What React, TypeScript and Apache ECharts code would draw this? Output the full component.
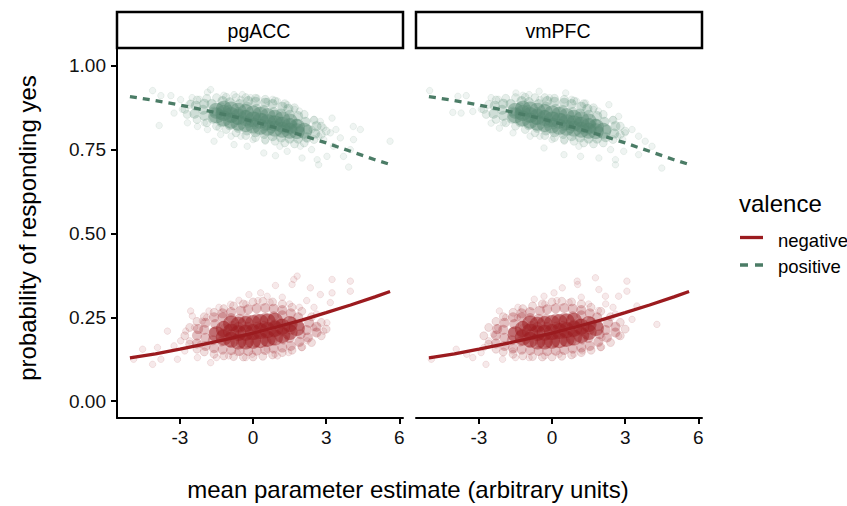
import React, { useEffect, useRef } from "react";
import * as echarts from "echarts";

const panels = ["pgACC", "vmPFC"];
const xTicks = [-3, 0, 3, 6];
const yTicks = [0, 0.25, 0.5, 0.75, 1];
const legendTitle = "valence";
const legendItems = ["negative", "positive"];
const xTitle = "mean parameter estimate (arbitrary units)";
const yTitle = "probability of responding yes";

// fitted curves
const lineX = [-5.05, -4, -3, -2, -1, 0, 1, 2, 3, 4, 5, 5.62];
const negativeFit = [0.129, 0.141, 0.155, 0.17, 0.186, 0.203, 0.222, 0.242, 0.264, 0.287, 0.311, 0.327];
const positiveFit = [0.908, 0.896, 0.883, 0.868, 0.852, 0.834, 0.814, 0.793, 0.77, 0.745, 0.72, 0.706];

// saturated core of the positive cloud
const greenCore = [
  [-1.5, 0.852], [-1.5, 0.866], [-1.2, 0.843], [-1.2, 0.859], [-1.2, 0.872], [-0.9, 0.836], [-0.9, 0.853], [-0.9, 0.87],
  [-0.6, 0.83], [-0.6, 0.848], [-0.6, 0.866], [-0.3, 0.826], [-0.3, 0.844], [-0.3, 0.862], [0, 0.822], [0, 0.84],
  [0, 0.858], [0.3, 0.818], [0.3, 0.836], [0.3, 0.854], [0.6, 0.815], [0.6, 0.832], [0.6, 0.85], [0.9, 0.812],
  [0.9, 0.828], [0.9, 0.845], [1.2, 0.809], [1.2, 0.824], [1.2, 0.84], [1.5, 0.806], [1.5, 0.82], [1.5, 0.834],
  [1.8, 0.805], [1.8, 0.818], [2.1, 0.806],
];
// semi-dense body of the positive cloud
const greenMid = [
  [-2.4, 0.857], [-2.35, 0.881], [-2.0, 0.851], [-2.05, 0.869], [-2.0, 0.887], [-1.65, 0.842], [-1.6, 0.864], [-1.7, 0.886],
  [-1.3, 0.832], [-1.35, 0.854], [-1.3, 0.876], [-1.25, 0.895], [-0.95, 0.823], [-0.9, 0.846], [-1.0, 0.869], [-0.95, 0.891],
  [-0.6, 0.815], [-0.65, 0.838], [-0.6, 0.862], [-0.55, 0.886], [-0.25, 0.807], [-0.2, 0.83], [-0.3, 0.854], [-0.25, 0.878],
  [-0.2, 0.895], [0.1, 0.802], [0.05, 0.825], [0.1, 0.849], [0.15, 0.872], [0.1, 0.893], [0.45, 0.797], [0.5, 0.82],
  [0.4, 0.844], [0.45, 0.868], [0.5, 0.89], [0.8, 0.79], [0.75, 0.814], [0.8, 0.838], [0.85, 0.862], [0.8, 0.886],
  [1.15, 0.786], [1.2, 0.81], [1.1, 0.834], [1.15, 0.858], [1.2, 0.878], [1.5, 0.783], [1.45, 0.806], [1.55, 0.83],
  [1.5, 0.854], [1.45, 0.872], [1.85, 0.783], [1.9, 0.805], [1.8, 0.827], [1.85, 0.85], [2.2, 0.787], [2.25, 0.81],
  [2.15, 0.833], [2.55, 0.798], [2.6, 0.82],
];
// thinning rim of the positive cloud
const greenRim = [
  [-2.6, 0.885], [-2.3, 0.898], [-1.9, 0.903], [-1.5, 0.905], [-1.1, 0.906], [-0.7, 0.905], [-0.3, 0.905], [0.1, 0.903],
  [0.5, 0.9], [0.9, 0.895], [1.3, 0.887], [1.7, 0.875], [2.1, 0.855], [2.5, 0.838], [2.8, 0.82], [-2.7, 0.855],
  [-2.3, 0.84], [-1.9, 0.83], [-1.5, 0.82], [-1.1, 0.81], [-0.7, 0.8], [-0.3, 0.792], [0.1, 0.786], [0.5, 0.78],
  [0.9, 0.775], [1.3, 0.77], [1.7, 0.767], [2.1, 0.77], [2.5, 0.78], [2.8, 0.795], [-2.8, 0.87], [3.0, 0.805],
];
const greenFringe1 = [
  [-4.12, 0.926], [-3.85, 0.822], [5.62, 0.775], [3.92, 0.698], [2.69, 0.705], [4.11, 0.819], [3.24, 0.844], [2.01, 0.725],
  [0.92, 0.732], [-1.6, 0.775], [-0.78, 0.765], [-1.87, 0.921], [-3.37, 0.911], [-3.78, 0.911], [-3.24, 0.859], [-2.97, 0.899],
  [-2.28, 0.819], [-0.78, 0.914], [-0.44, 0.914], [0.17, 0.904], [0.58, 0.894], [1.4, 0.884], [2.76, 0.834], [3.17, 0.8],
  [3.58, 0.785], [3.99, 0.75], [3.03, 0.73], [2.63, 0.72], [1.4, 0.745], [0.44, 0.74], [-0.24, 0.76], [-1.33, 0.795],
  [-1.87, 0.81], [-2.69, 0.83], [-2.56, 0.889], [-1.74, 0.929], [1.94, 0.76], [2.22, 0.78], [2.42, 0.81], [4.12, 0.78],
  [3.71, 0.73], [4.4, 0.81], [3.3, 0.76], [-2.9, 0.87], [-2.5, 0.905], [-1.2, 0.912], [-0.1, 0.905], [1.0, 0.895],
  [1.7, 0.87], [2.5, 0.84], [2.9, 0.78], [2.4, 0.75], [1.1, 0.76], [0.0, 0.78], [-0.9, 0.79], [-2.0, 0.83], [3.4, 0.81],
  [2.9, 0.815], [-2.2, 0.9], [-0.5, 0.9], [0.8, 0.9], [1.9, 0.865], [2.7, 0.79], [0.5, 0.775], [-0.5, 0.79], [-1.4, 0.815],
];
const greenFringe2 = [
  [-5.02, 0.926], [-4.07, 0.861], [-3.73, 0.859], [-3.86, 0.909], [-3.52, 0.911], [-3.25, 0.864], [-2.5, 0.829], [-2.16, 0.814],
  [-1.48, 0.919], [-0.94, 0.914], [-0.53, 0.924], [0.56, 0.919], [1.38, 0.889], [2.33, 0.884], [2.73, 0.849], [3.28, 0.81],
  [3.55, 0.79], [3.82, 0.775], [3.55, 0.735], [2.94, 0.745], [2.6, 0.705], [2.6, 0.72], [4.5, 0.695], [0.49, 0.735],
  [-0.33, 0.755], [1.92, 0.725], [1.17, 0.73], [-2.9, 0.87], [-2.5, 0.905], [-1.2, 0.912], [-0.1, 0.905], [1.0, 0.895],
  [1.7, 0.87], [2.5, 0.84], [2.9, 0.78], [2.4, 0.75], [1.1, 0.76], [0.0, 0.78], [-0.9, 0.79], [-2.0, 0.83], [3.0, 0.8],
  [-1.6, 0.8], [4.1, 0.76], [-2.2, 0.9], [-0.5, 0.9], [0.8, 0.9], [1.9, 0.865], [2.7, 0.79], [0.5, 0.775], [-0.5, 0.79],
];

// saturated core of the negative cloud
const redCore = [
  [-1.5, 0.2], [-1.2, 0.19], [-1.2, 0.215], [-0.9, 0.183], [-0.9, 0.208], [-0.9, 0.232], [-0.6, 0.178], [-0.6, 0.203],
  [-0.6, 0.228], [-0.3, 0.178], [-0.3, 0.204], [-0.3, 0.23], [0, 0.18], [0, 0.206], [0, 0.233], [0.3, 0.182],
  [0.3, 0.209], [0.3, 0.236], [0.6, 0.186], [0.6, 0.212], [0.6, 0.238], [0.9, 0.19], [0.9, 0.216], [0.9, 0.24],
  [1.2, 0.197], [1.2, 0.222], [1.5, 0.206], [1.5, 0.23], [1.8, 0.218],
];
// semi-dense body of the negative cloud
const redMid = [
  [-2.3, 0.172], [-2.3, 0.196], [-2.25, 0.215], [-1.95, 0.165], [-1.95, 0.189], [-2.0, 0.213], [-1.95, 0.234],
  [-1.6, 0.158], [-1.65, 0.182], [-1.6, 0.206], [-1.55, 0.23], [-1.6, 0.25], [-1.25, 0.154], [-1.3, 0.178],
  [-1.25, 0.202], [-1.2, 0.226], [-1.25, 0.25], [-1.25, 0.262], [-0.9, 0.152], [-0.95, 0.176], [-0.9, 0.2],
  [-0.85, 0.224], [-0.9, 0.248], [-0.9, 0.266], [-0.55, 0.15], [-0.5, 0.174], [-0.55, 0.198], [-0.6, 0.222],
  [-0.55, 0.246], [-0.5, 0.27], [-0.2, 0.15], [-0.2, 0.174], [-0.15, 0.198], [-0.2, 0.222], [-0.25, 0.246],
  [-0.2, 0.274], [0.15, 0.151], [0.1, 0.175], [0.15, 0.199], [0.2, 0.223], [0.15, 0.247], [0.15, 0.277],
  [0.5, 0.153], [0.55, 0.177], [0.5, 0.201], [0.45, 0.225], [0.5, 0.249], [0.5, 0.278], [0.85, 0.157],
  [0.8, 0.181], [0.85, 0.205], [0.9, 0.229], [0.85, 0.253], [0.85, 0.276], [1.2, 0.16], [1.25, 0.184],
  [1.2, 0.208], [1.15, 0.232], [1.2, 0.256], [1.2, 0.272], [1.55, 0.165], [1.5, 0.189], [1.55, 0.213],
  [1.6, 0.237], [1.55, 0.262], [1.9, 0.177], [1.95, 0.2], [1.9, 0.224], [1.85, 0.25], [2.25, 0.19],
  [2.2, 0.212], [2.3, 0.234], [2.6, 0.205], [2.6, 0.222],
];
// thinning rim of the negative cloud
const redRim = [
  [-2.6, 0.22], [-2.3, 0.238], [-2.0, 0.252], [-1.6, 0.265], [-1.2, 0.276], [-0.8, 0.284], [-0.4, 0.29], [0, 0.296],
  [0.4, 0.298], [0.8, 0.296], [1.2, 0.29], [1.6, 0.28], [2.0, 0.268], [2.4, 0.252], [2.8, 0.235], [-2.6, 0.17],
  [-2.3, 0.155], [-2.0, 0.147], [-1.6, 0.14], [-1.2, 0.135], [-0.8, 0.133], [-0.4, 0.132], [0, 0.132], [0.4, 0.134],
  [0.8, 0.138], [1.2, 0.145], [1.6, 0.152], [2.0, 0.162], [2.4, 0.175], [2.8, 0.195], [-2.8, 0.195], [3.0, 0.215],
];
const redFringe1 = [
  [-4.53, 0.155], [-4.12, 0.11], [-3.78, 0.125], [-3.1, 0.125], [-3.51, 0.209], [-2.76, 0.209], [-2.97, 0.18], [-2.56, 0.269],
  [-2.49, 0.254], [-1.81, 0.269], [-2.08, 0.239], [-2.28, 0.13], [-1.74, 0.115], [-0.92, 0.289], [-0.58, 0.301], [-0.17, 0.318],
  [0.31, 0.323], [0.92, 0.345], [0.58, 0.313], [1.67, 0.363], [1.81, 0.373], [1.6, 0.348], [2.35, 0.338], [3.24, 0.363],
  [3.99, 0.358], [3.99, 0.328], [3.24, 0.323], [2.76, 0.318], [3.17, 0.294], [3.03, 0.234], [2.9, 0.209], [2.49, 0.219],
  [2.22, 0.18], [1.46, 0.145], [0.58, 0.155], [-0.03, 0.14], [-0.65, 0.145], [-2.15, 0.17], [-3.92, 0.16], [-3.24, 0.165],
  [-1.5, 0.13], [-0.3, 0.13], [0.9, 0.14], [2.0, 0.16], [2.6, 0.26], [2.2, 0.3], [1.2, 0.31], [-1.4, 0.28], [-2.4, 0.22],
  [-2.8, 0.15], [-4.9, 0.125], [-1.2, 0.22], [1.9, 0.28], [0.2, 0.3], [-0.3, 0.29], [0.7, 0.295], [1.5, 0.29], [2.5, 0.28],
  [-1.9, 0.25], [-2.6, 0.18], [1.0, 0.135], [-1.0, 0.135],
];
const redFringe2 = [
  [-4.95, 0.125], [-3.93, 0.155], [-3.25, 0.13], [-2.71, 0.11], [-2.91, 0.145], [-2.16, 0.269], [-2.23, 0.219], [-1.42, 0.249],
  [-2.03, 0.125], [-0.73, 0.304], [-0.33, 0.313], [0.08, 0.323], [0.42, 0.338], [1.03, 0.358], [1.05, 0.348], [1.78, 0.368],
  [1.92, 0.333], [2.19, 0.313], [3.07, 0.358], [3.07, 0.328], [2.73, 0.313], [3.48, 0.284], [3.28, 0.244], [2.73, 0.194],
  [2.05, 0.19], [4.3, 0.229], [1.24, 0.15], [0.29, 0.14], [-0.94, 0.13], [-1.62, 0.15], [-1.5, 0.13], [-0.3, 0.135],
  [0.9, 0.14], [2.0, 0.16], [2.6, 0.26], [2.2, 0.29], [1.2, 0.31], [-1.4, 0.28], [-2.4, 0.2], [-2.8, 0.16], [-3.5, 0.14],
  [-1.2, 0.22], [1.9, 0.27], [0.2, 0.3], [-0.3, 0.29], [0.7, 0.295], [1.5, 0.29], [2.5, 0.28], [-1.9, 0.25], [-2.6, 0.18],
];

const FONT = '"Liberation Sans", Arial, Helvetica, sans-serif';
const RED = "155,26,31";
const GREEN = "84,135,112";
const RED_LINE = "#9b1b1f";
const GREEN_LINE = "#4b7c66";

export default function App() {
  const ref = useRef<HTMLDivElement>(null);
  useEffect(() => {
    if (!ref.current) return;
    const chart = echarts.init(ref.current, null, { renderer: "svg" });
    const fringes = [
      { g: greenFringe1, r: redFringe1 },
      { g: greenFringe2, r: redFringe2 },
    ];
    const grids = panels.map((_, i) => ({
      left: i === 0 ? 117 : 416,
      top: 49,
      width: 286,
      height: 369,
    }));
    const xAxes = panels.map((_, i) => ({
      type: "value",
      gridIndex: i,
      min: -5.58,
      max: 6.15,
      axisLine: { onZero: false, lineStyle: { color: "#000", width: 2 } },
      axisTick: { length: 6, customValues: xTicks, lineStyle: { color: "#000", width: 2 } },
      axisLabel: { customValues: xTicks, color: "#111", fontSize: 19, fontFamily: FONT, margin: 10 },
      splitLine: { show: false },
    }));
    const yAxes = panels.map((_, i) => ({
      type: "value",
      gridIndex: i,
      min: -0.05,
      max: 1.05,
      axisLine: { show: i === 0, onZero: false, lineStyle: { color: "#000", width: 2 } },
      axisTick: { show: i === 0, length: 6, customValues: yTicks, lineStyle: { color: "#000", width: 2 } },
      axisLabel: {
        show: i === 0,
        customValues: yTicks,
        color: "#111",
        fontSize: 19,
        fontFamily: FONT,
        margin: 11,
        formatter: (v: number) => v.toFixed(2),
      },
      splitLine: { show: false },
    }));
    const series: any[] = [];
    panels.forEach((_, i) => {
      const sc = (data: number[][], rgb: string, size: number, a: number, ba: number, bw: number) => ({
        type: "scatter",
        xAxisIndex: i,
        yAxisIndex: i,
        data,
        symbolSize: size,
        silent: true,
        itemStyle: { color: `rgba(${rgb},${a})`, borderColor: `rgba(${rgb},${ba})`, borderWidth: bw },
      });
      series.push(sc(fringes[i].r, RED, 6.5, 0.12, 0.16, 0.8));
      series.push(sc(redRim, RED, 8, 0.18, 0.2, 0.8));
      series.push(sc(redMid, RED, 10, 0.35, 0, 0));
      series.push(sc(redCore, RED, 16, 0.62, 0, 0));
      series.push(sc(fringes[i].g, GREEN, 6.5, 0.12, 0.16, 0.8));
      series.push(sc(greenRim, GREEN, 8, 0.18, 0.2, 0.8));
      series.push(sc(greenMid, GREEN, 10, 0.35, 0, 0));
      series.push(sc(greenCore, GREEN, 16, 0.55, 0, 0));
      series.push({
        type: "line",
        xAxisIndex: i,
        yAxisIndex: i,
        data: lineX.map((x, k) => [x, negativeFit[k]]),
        showSymbol: false,
        symbol: "none",
        silent: true,
        lineStyle: { color: RED_LINE, width: 3.3 },
      });
      series.push({
        type: "line",
        xAxisIndex: i,
        yAxisIndex: i,
        data: lineX.map((x, k) => [x, positiveFit[k]]),
        showSymbol: false,
        symbol: "none",
        silent: true,
        lineStyle: { color: GREEN_LINE, width: 3.3, type: [7, 6] },
      });
    });
    const txt = (text: string, x: number, y: number, size: number, align: string, rotation = 0) => ({
      type: "text",
      x,
      y,
      rotation,
      silent: true,
      style: {
        text,
        font: `${size}px ${FONT}`,
        fill: "#000",
        align,
        verticalAlign: "middle",
        textAlign: align,
        textVerticalAlign: "middle",
      },
    });
    const graphics: any[] = [];
    panels.forEach((p, i) => {
      const left = i === 0 ? 117 : 416;
      graphics.push({
        type: "rect",
        silent: true,
        shape: { x: left, y: 12, width: 286, height: 36 },
        style: { fill: "#fff", stroke: "#000", lineWidth: 2.5 },
      });
      graphics.push(txt(p, left + 142, 30.5, 19.5, "center"));
    });
    graphics.push(txt(xTitle, 408, 489, 24, "center"));
    graphics.push(txt(yTitle, 27, 228, 24, "center", Math.PI / 2));
    graphics.push(txt(legendTitle, 739, 203, 24, "left"));
    graphics.push({
      type: "line",
      silent: true,
      shape: { x1: 740, y1: 237.5, x2: 763, y2: 237.5 },
      style: { stroke: RED_LINE, lineWidth: 3.3 },
    });
    graphics.push({
      type: "line",
      silent: true,
      shape: { x1: 740, y1: 265, x2: 763, y2: 265 },
      style: { stroke: GREEN_LINE, lineWidth: 3.3, lineDash: [8, 7] },
    });
    graphics.push(txt(legendItems[0], 778, 240, 18.5, "left"));
    graphics.push(txt(legendItems[1], 778, 266, 18.5, "left"));

    chart.setOption({
      animation: false,
      backgroundColor: "#fff",
      grid: grids,
      xAxis: xAxes,
      yAxis: yAxes,
      series,
      graphic: graphics,
    });
    return () => chart.dispose();
  }, []);
  return <div ref={ref} style={{ position: "absolute", left: 0, top: 0, width: 847, height: 506 }} />;
}
